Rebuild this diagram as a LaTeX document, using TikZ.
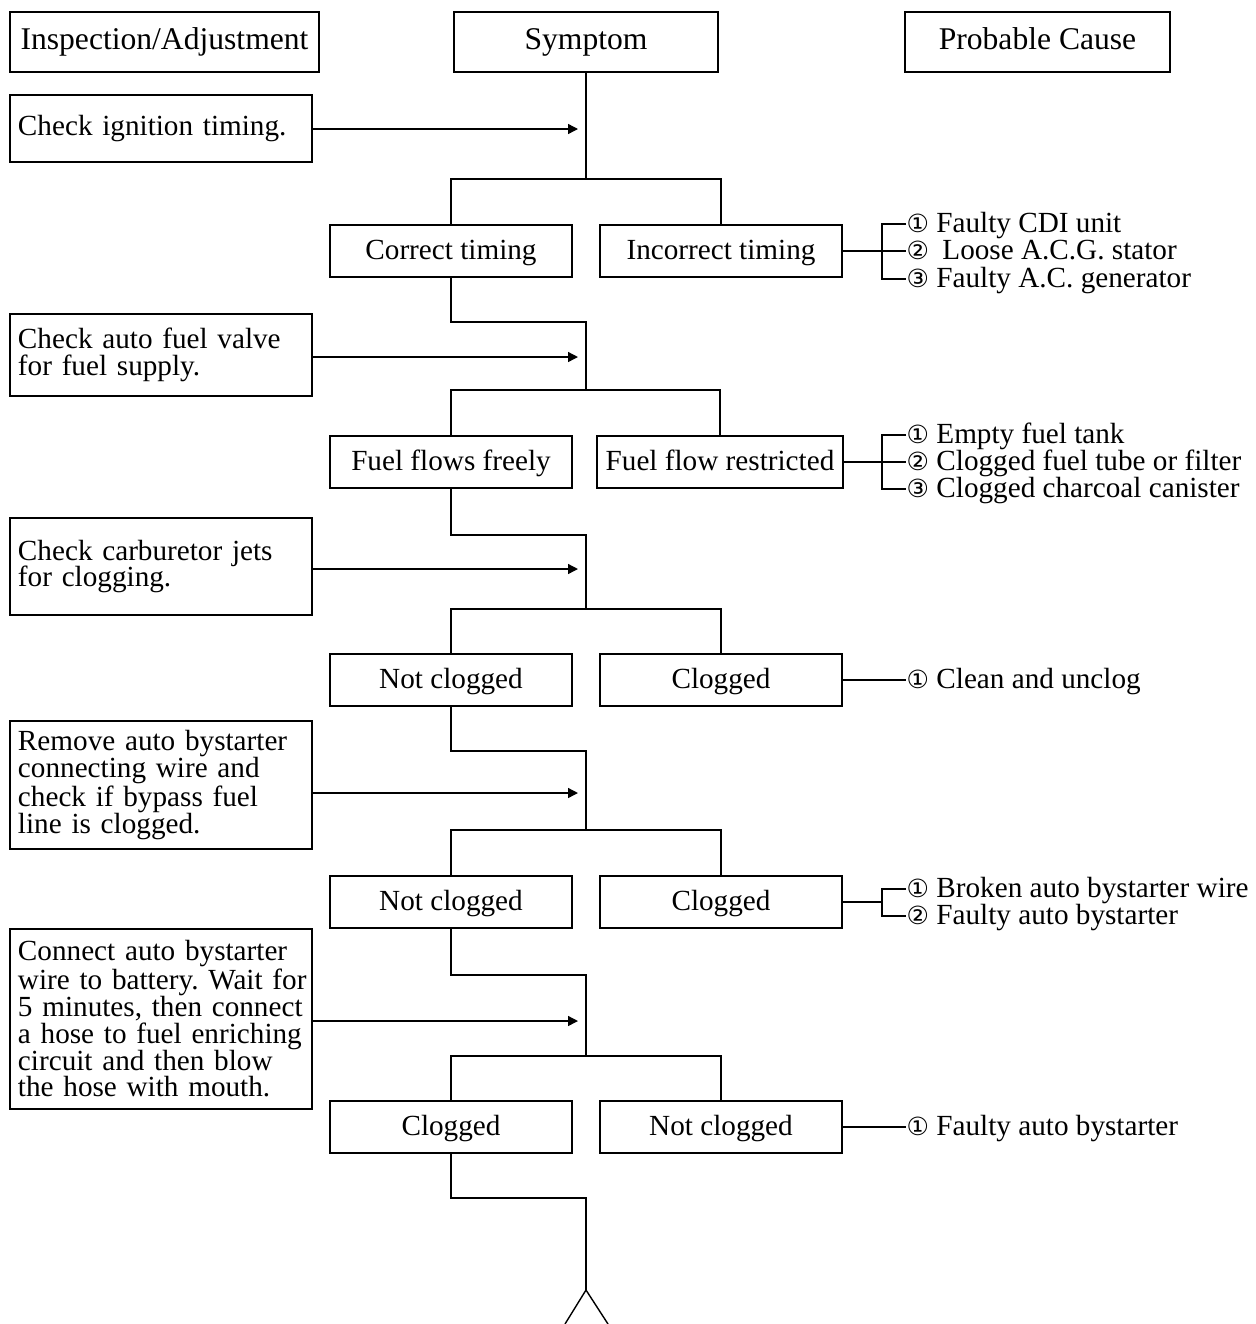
\documentclass[tikz,border=0pt]{standalone}
\usepackage{fontspec}
\setmainfont{Liberation Serif}
\newfontfamily\numfont{DejaVu Sans}
\usetikzlibrary{arrows.meta,positioning,calc}
\newcommand{\cnum}[1]{{\numfont\fontsize{12.5}{12.5}\selectfont #1}}

\begin{document}
\begin{tikzpicture}[x=0.5pt,y=-0.5pt,>={Triangle[length=5pt,width=5pt]},line width=0.7pt,
    every node/.style={font=\fontsize{14.6}{13.4}\selectfont\frenchspacing},
    hdr/.style={draw,minimum height=30pt,inner sep=0pt,text height=11pt,text depth=3.5pt,font=\fontsize{15.8}{15.8}\selectfont},
    insp/.style={draw,align=left,text width=143pt,inner xsep=4pt,inner ysep=0pt},
    result/.style={draw,minimum width=121pt,minimum height=26pt,inner xsep=2pt,text height=10.5pt,text depth=2.5pt},
    cause/.style={anchor=west,inner sep=0pt,text height=10pt,text depth=2pt}]
    \useasboundingbox (0,0) rectangle (1256,1324);
    % column heads
    \node[hdr,minimum width=154.5pt] (h1) at (164.5,42) {Inspection/Adjustment};
    \node[hdr,minimum width=132pt] (h2) at (586,42) {Symptom};
    \node[hdr,minimum width=132.5pt] (h3) at (1037.5,42) {Probable Cause};
    % inspections
    \node[insp,minimum height=33.5pt] (i1) at (161,128.5) {Check ignition timing.};
    \node[insp,minimum height=41pt] (i2) at (161,355) {Check auto fuel valve\\for fuel supply.};
    \node[insp,minimum height=48.5pt] (i3) at (161,566.5) {Check carburetor jets\\for clogging.};
    \node[insp,minimum height=64pt] (i4) at (161,785) {Remove auto bystarter\\connecting wire and\\check if bypass fuel\\line is clogged.};
    \node[insp,minimum height=90pt] (i5) at (161,1019) {Connect auto bystarter\\\mbox{wire to battery. Wait for}\\5 minutes, then connect\\a hose to fuel enriching\\circuit and then blow\\the hose with mouth.};
    % symptoms
    \node[result] (c1) at (451,251) {Correct timing};
    \node[result] (n1) at (721,251) {Incorrect timing};
    \node[result] (c2) at (451,462) {Fuel flows freely};
    \node[result,minimum width=123pt] (n2) at (720,462) {Fuel flow restricted};
    \node[result] (c3) at (451,680) {Not clogged};
    \node[result] (n3) at (721,680) {Clogged};
    \node[result] (c4) at (451,902) {Not clogged};
    \node[result] (n4) at (721,902) {Clogged};
    \node[result] (c5) at (451,1127) {Clogged};
    \node[result] (n5) at (721,1127) {Not clogged};
    % junctions on the main line
    \coordinate (j1) at (586,179);
    \coordinate (k1) at (586,322);
    \coordinate (j2) at (586,390);
    \coordinate (k2) at (586,535);
    \coordinate (j3) at (586,609);
    \coordinate (k3) at (586,751);
    \coordinate (j4) at (586,830);
    \coordinate (k4) at (586,975);
    \coordinate (j5) at (586,1056);
    \coordinate (k5) at (586,1198);
    \coordinate (tip) at (586,1290);
    \coordinate (tl) at (565,1324);
    \coordinate (tr) at (608,1324);
    \coordinate (a1) at (578,129);
    \coordinate (a2) at (578,357);
    \coordinate (a3) at (578,569);
    \coordinate (a4) at (578,793);
    \coordinate (a5) at (578,1021);
    \draw (h2) -- (j1);
    \draw (c1.north) |- (j1) -| (n1.north);
    \draw (c1.south) |- (k1) -- (j2);
    \draw (c2.north) |- (j2) -| (n2.north);
    \draw (c2.south) |- (k2) -- (j3);
    \draw (c3.north) |- (j3) -| (n3.north);
    \draw (c3.south) |- (k3) -- (j4);
    \draw (c4.north) |- (j4) -| (n4.north);
    \draw (c4.south) |- (k4) -- (j5);
    \draw (c5.north) |- (j5) -| (n5.north);
    \draw (c5.south) |- (k5) -- (tip);
    \draw (tl) -- (tip) -- (tr);
    \draw[->] (i1.east |- a1) -- (a1);
    \draw[->] (i2.east |- a2) -- (a2);
    \draw[->] (i3.east |- a3) -- (a3);
    \draw[->] (i4.east |- a4) -- (a4);
    \draw[->] (i5.east |- a5) -- (a5);
    % probable causes
    \coordinate (b1) at (882,251);
    \node[cause] (p11) at (906,224) {\cnum{①} Faulty CDI unit};
    \node[cause] (p12) at (906,251) {\cnum{②}\hspace{3pt} Loose A.C.G. stator};
    \node[cause] (p13) at (906,279) {\cnum{③} Faulty A.C. generator};
    \draw (n1.east) -- (p12.west);
    \draw (p11.west) -| (b1) |- (p13.west);
    \coordinate (b2) at (882,462);
    \node[cause] (p21) at (906,435) {\cnum{①} Empty fuel tank};
    \node[cause] (p22) at (906,462) {\cnum{②} Clogged fuel tube or filter};
    \node[cause] (p23) at (906,489) {\cnum{③} Clogged charcoal canister};
    \draw (n2.east) -- (p22.west);
    \draw (p21.west) -| (b2) |- (p23.west);
    \node[cause] (p31) at (906,680) {\cnum{①} Clean and unclog};
    \draw (n3.east) -- (p31.west);
    \coordinate (b4) at (882,902);
    \node[cause] (p41) at (906,889) {\cnum{①} Broken auto bystarter wire};
    \node[cause] (p42) at (906,916) {\cnum{②} Faulty auto bystarter};
    \draw (n4.east) -- (b4);
    \draw (p41.west) -| (b4) |- (p42.west);
    \node[cause] (p51) at (906,1127) {\cnum{①} Faulty auto bystarter};
    \draw (n5.east) -- (p51.west);
\end{tikzpicture}
\end{document}
